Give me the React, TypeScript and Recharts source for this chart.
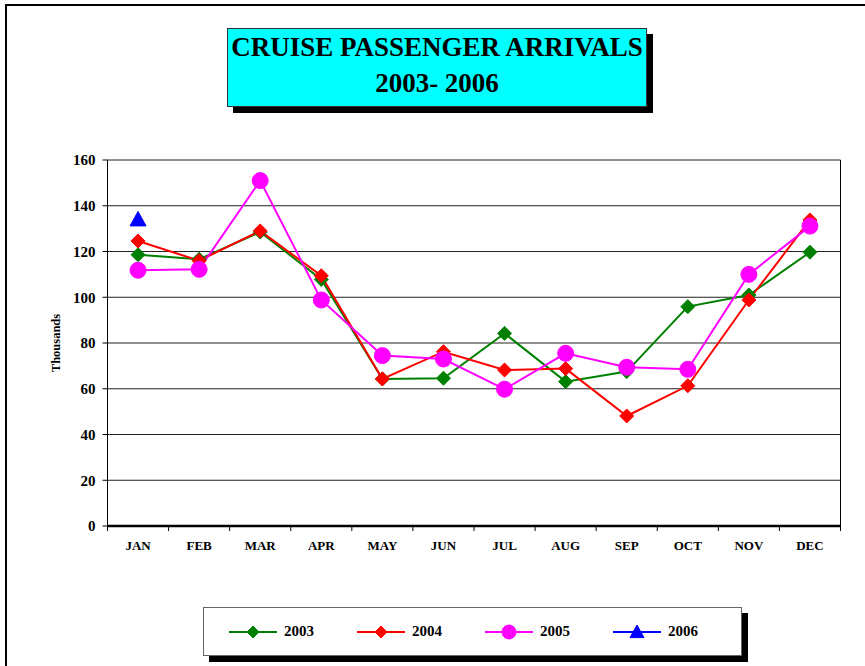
import React from 'react';
import { LineChart, Line, XAxis, YAxis, CartesianGrid } from 'recharts';

const months = ['JAN', 'FEB', 'MAR', 'APR', 'MAY', 'JUN', 'JUL', 'AUG', 'SEP', 'OCT', 'NOV', 'DEC'];
const y2003 = [118.6, 116.6, 128.5, 107.8, 64.3, 64.6, 84.2, 63.1, 67.5, 95.9, 101.0, 119.7];
const y2004 = [124.6, 116.0, 129.0, 109.4, 64.3, 76.2, 68.2, 68.8, 48.1, 61.3, 98.8, 133.8];
const y2005 = [111.8, 112.2, 151.0, 98.8, 74.5, 73.0, 59.8, 75.5, 69.4, 68.5, 110.0, 131.1];
const y2006: (number | null)[] = [134.0, null, null, null, null, null, null, null, null, null, null, null];
const yTicks = [0, 20, 40, 60, 80, 100, 120, 140, 160];
const titleLines = ['CRUISE PASSENGER ARRIVALS', '2003- 2006'];
const yLabel = 'Thousands';

const series = [
  { key: 's2003', name: '2003', color: '#008000', shape: 'diamond', values: y2003 },
  { key: 's2004', name: '2004', color: '#FF0000', shape: 'diamond', values: y2004 },
  { key: 's2005', name: '2005', color: '#FF00FF', shape: 'circle', values: y2005 },
  { key: 's2006', name: '2006', color: '#0000FF', shape: 'triangle', values: y2006 },
];

const data = months.map((m, i) => {
  const row: any = { month: m };
  series.forEach((s) => {
    row[s.key] = s.values[i];
  });
  return row;
});

const FONT = '"Liberation Serif", "Times New Roman", serif';

function Marker({ cx, cy, shape, color, size }: any) {
  if (cx == null || cy == null || isNaN(cx) || isNaN(cy)) return null;
  if (shape === 'diamond') {
    const r = size;
    return <polygon points={`${cx},${cy - r} ${cx + r},${cy} ${cx},${cy + r} ${cx - r},${cy}`} fill={color} stroke={color} strokeWidth={1} />;
  }
  if (shape === 'circle') {
    return <circle cx={cx} cy={cy} r={size + 1} fill={color} stroke={color} />;
  }
  const r = size + 1;
  return <polygon points={`${cx},${cy - r} ${cx + r},${cy + r * 0.8} ${cx - r},${cy + r * 0.8}`} fill={color} stroke={color} />;
}

function makeDot(shape: string, color: string) {
  return (props: any) => <Marker key={`${props.index}`} cx={props.cx} cy={props.cy} shape={shape} color={color} size={7} />;
}

function MonthTick(props: any) {
  const { x, y, payload, index, visibleTicksCount } = props;
  const half = payload && payload.offset ? payload.offset : 0;
  const axisY = y - 15;
  const isLast = index === (visibleTicksCount ?? months.length) - 1;
  return (
    <g>
      <line x1={x - half} y1={axisY} x2={x - half} y2={axisY + 5} stroke="#000" strokeWidth={1} />
      {isLast && <line x1={x + half} y1={axisY} x2={x + half} y2={axisY + 5} stroke="#000" strokeWidth={1} />}
      <text x={x} y={y} dy="0.71em" textAnchor="middle" fontSize={13} fontWeight="bold" fill="#000" fontFamily={FONT}>
        {payload.value}
      </text>
    </g>
  );
}

function LegendBox() {
  return (
    <div
      style={{
        position: 'absolute',
        left: 203,
        top: 607,
        width: 512,
        height: 47,
        background: '#fff',
        border: '1px solid #666',
        boxShadow: '6px 6px 0 #000',
        display: 'flex',
        alignItems: 'center',
        paddingLeft: 25,
        boxSizing: 'content-box',
        fontFamily: FONT,
      }}
    >
      {series.map((s) => (
        <div key={s.key} style={{ width: 135, display: 'flex', alignItems: 'center' }}>
          <svg width={50} height={18} style={{ display: 'block' }}>
            <line x1={0} y1={9} x2={48} y2={9} stroke={s.color} strokeWidth={2} />
            <Marker cx={24} cy={9} shape={s.shape} color={s.color} size={6} />
          </svg>
          <span style={{ fontWeight: 'bold', fontSize: 15, marginLeft: 5, color: '#000' }}>{s.name}</span>
        </div>
      ))}
    </div>
  );
}

export default function App() {
  return (
    <div style={{ position: 'absolute', left: 0, top: 0, width: 865, height: 666, background: '#fff', overflow: 'hidden' }}>
      <div
        style={{
          position: 'absolute',
          left: 5,
          top: 4,
          width: 870,
          height: 700,
          borderLeft: '2px solid #000',
          borderTop: '2px solid #000',
        }}
      />
      <div style={{ position: 'absolute', left: 0, top: 0 }}>
        <LineChart
          width={843}
          height={666}
          data={data}
          margin={{ top: 160, right: 1.5, bottom: 110, left: 47.5 }}
          style={{ fontFamily: FONT, overflow: 'visible' }}
        >
          <CartesianGrid vertical={false} stroke="#222" strokeWidth={1} />
          <XAxis
            dataKey="month"
            scale="band"
            tickLine={false}
            axisLine={{ stroke: '#000', strokeWidth: 2.5 }}
            tickSize={6}
            tickMargin={9}
            interval={0}
            height={30}
            tick={<MonthTick />}
          />
          <YAxis
            domain={[0, 160]}
            ticks={yTicks}
            width={60}
            tickSize={5}
            tickMargin={7}
            interval={0}
            axisLine={{ stroke: '#000' }}
            tickLine={{ stroke: '#000' }}
            tick={{ fontSize: 15, fontWeight: 'bold', fill: '#000', fontFamily: FONT }}
            label={{
              value: yLabel,
              angle: -90,
              position: 'insideLeft',
              offset: 8,
              style: { fontSize: 12.5, fontWeight: 'bold', fill: '#000', fontFamily: FONT, textAnchor: 'middle' },
            }}
          />
          <YAxis
            yAxisId="right"
            orientation="right"
            domain={[0, 160]}
            ticks={yTicks}
            width={1}
            tick={false}
            tickLine={false}
            axisLine={{ stroke: '#000', strokeWidth: 1 }}
          />
          {series.map((s) => (
            <Line
              key={s.key}
              dataKey={s.key}
              name={s.name}
              stroke={s.color}
              strokeWidth={2}
              dot={makeDot(s.shape, s.color)}
              activeDot={false}
              isAnimationActive={false}
              connectNulls={false}
            />
          ))}
        </LineChart>
      </div>
      <LegendBox />
      <div
        style={{
          position: 'absolute',
          left: 227,
          top: 28,
          width: 418,
          height: 77,
          background: '#00FFFF',
          border: '1px solid #333',
          boxShadow: '6px 6px 0 #000',
          textAlign: 'center',
          fontFamily: FONT,
          fontWeight: 'bold',
          fontSize: 27,
          lineHeight: '36px',
          color: '#000',
          boxSizing: 'content-box',
          whiteSpace: 'nowrap',
        }}
      >
        {titleLines.map((t) => (
          <div key={t}>{t}</div>
        ))}
      </div>
    </div>
  );
}
